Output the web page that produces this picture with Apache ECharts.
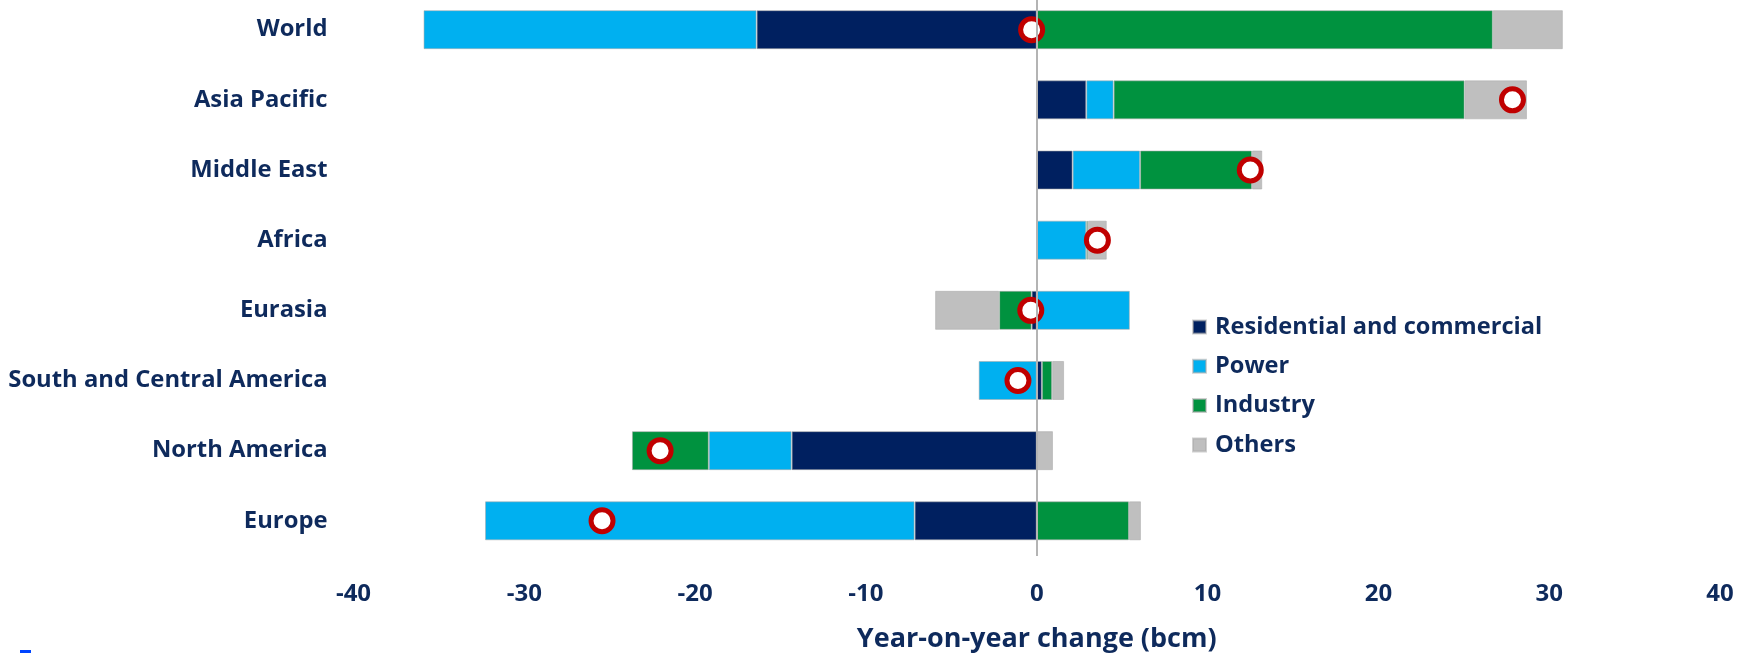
<!DOCTYPE html>
<html>
<head>
<meta charset="utf-8">
<title>Year-on-year change in natural gas demand by region and sector</title>
<script src="https://cdn.jsdelivr.net/npm/echarts@6/dist/echarts.min.js"></script>
<style>
  html, body { margin: 0; padding: 0; background: #ffffff; }
  #chart { width: 1737px; height: 653px; }
</style>
</head>
<body>
<div id="chart"></div>
<script>
// Regions, top to bottom
const categories = ['World', 'Asia Pacific', 'Middle East', 'Africa', 'Eurasia',
  'South and Central America', 'North America', 'Europe'];

// Year-on-year change by sector (bcm)
const residential = [-16.4, 2.9, 2.1, 0, -0.3, 0.3, -14.35, -7.15];
const power       = [-19.5, 1.6, 3.95, 2.9, 5.45, -3.4, -4.85, -25.15];
const industry    = [26.7, 20.55, 6.55, 0.1, -1.9, 0.6, -4.5, 5.4];
const others      = [4.1, 3.65, 0.6, 1.1, -3.75, 0.7, 0.95, 0.7];

// Net change marker per region (bcm)
const netChange   = [-0.3, 27.85, 12.5, 3.55, -0.35, -1.1, -22.05, -25.45];

// Value axis ticks
const axisMin = -40, axisMax = 40, axisStep = 10;

const sectorNames  = ['Residential and commercial', 'Power', 'Industry', 'Others'];
const sectorData   = [residential, power, industry, others];
const sectorColors = ['#002060', '#00B0F0', '#00923F', '#BFBFBF'];

const textColor = '#0E2A5C';
const fontFamily = '"Open Sans", "Noto Sans", sans-serif';

const chart = echarts.init(document.getElementById('chart'), null, { renderer: 'canvas' });

const barSeries = sectorNames.map((name, k) => ({
  name: name,
  type: 'bar',
  stack: 'sectors',
  barWidth: 39,
  z: 2,
  itemStyle: {
    color: sectorColors[k],
    borderColor: 'rgba(170,170,170,0.55)',
    borderWidth: 1
  },
  emphasis: { disabled: true },
  data: sectorData[k]
}));

const option = {
  backgroundColor: '#ffffff',
  animation: false,
  grid: {
    left: 353.5, right: 17, top: -5.4, bottom: 97.1,
    containLabel: false,
    outerBoundsMode: 'none'
  },
  legend: {
    data: sectorNames,
    orient: 'vertical',
    left: 1192,
    top: 315,
    padding: 0,
    icon: 'rect',
    itemWidth: 13,
    itemHeight: 13,
    itemGap: 15.3,
    selectedMode: false,
    textStyle: {
      color: textColor, fontFamily: fontFamily, fontWeight: 'bold',
      fontSize: 23.6, lineHeight: 24, padding: [0, 0, 0, 4]
    }
  },
  xAxis: {
    type: 'value',
    min: axisMin,
    max: axisMax,
    interval: axisStep,
    axisLine: { show: false },
    axisTick: { show: false },
    splitLine: { show: false },
    axisLabel: {
      color: textColor, fontFamily: fontFamily, fontWeight: 'bold',
      fontSize: 24, margin: 26
    },
    name: 'Year-on-year change (bcm)',
    nameLocation: 'middle',
    nameGap: 70,
    nameTextStyle: {
      color: textColor, fontFamily: fontFamily, fontWeight: 'bold', fontSize: 27
    }
  },
  yAxis: {
    type: 'category',
    data: categories,
    inverse: true,
    axisLine: { show: false, onZero: false },
    axisTick: { show: false },
    splitLine: { show: false },
    axisLabel: {
      color: textColor, fontFamily: fontFamily, fontWeight: 'bold',
      fontSize: 23.8, margin: 26, padding: [5, 0, 0, 0]
    }
  },
  series: barSeries.concat([
    {
      // zero line drawn over the bars
      name: 'zero',
      type: 'line',
      data: [],
      z: 3,
      silent: true,
      markLine: {
        silent: true,
        symbol: ['none', 'none'],
        label: { show: false },
        lineStyle: { color: '#B4B4B4', width: 2, type: 'solid' },
        data: [{ xAxis: 0 }]
      }
    },
    {
      name: 'Net change',
      type: 'scatter',
      z: 4,
      symbol: 'circle',
      symbolSize: 22,
      itemStyle: { color: '#ffffff', borderColor: '#C00000', borderWidth: 5, opacity: 1 },
      emphasis: { disabled: true },
      data: netChange.map((v, i) => [v, categories[i]])
    }
  ]),
  graphic: [
    {
      type: 'rect',
      left: 20,
      top: 650,
      shape: { width: 11, height: 3 },
      style: { fill: '#0044FF' },
      silent: true
    }
  ]
};

chart.setOption(option);
</script>
</body>
</html>
